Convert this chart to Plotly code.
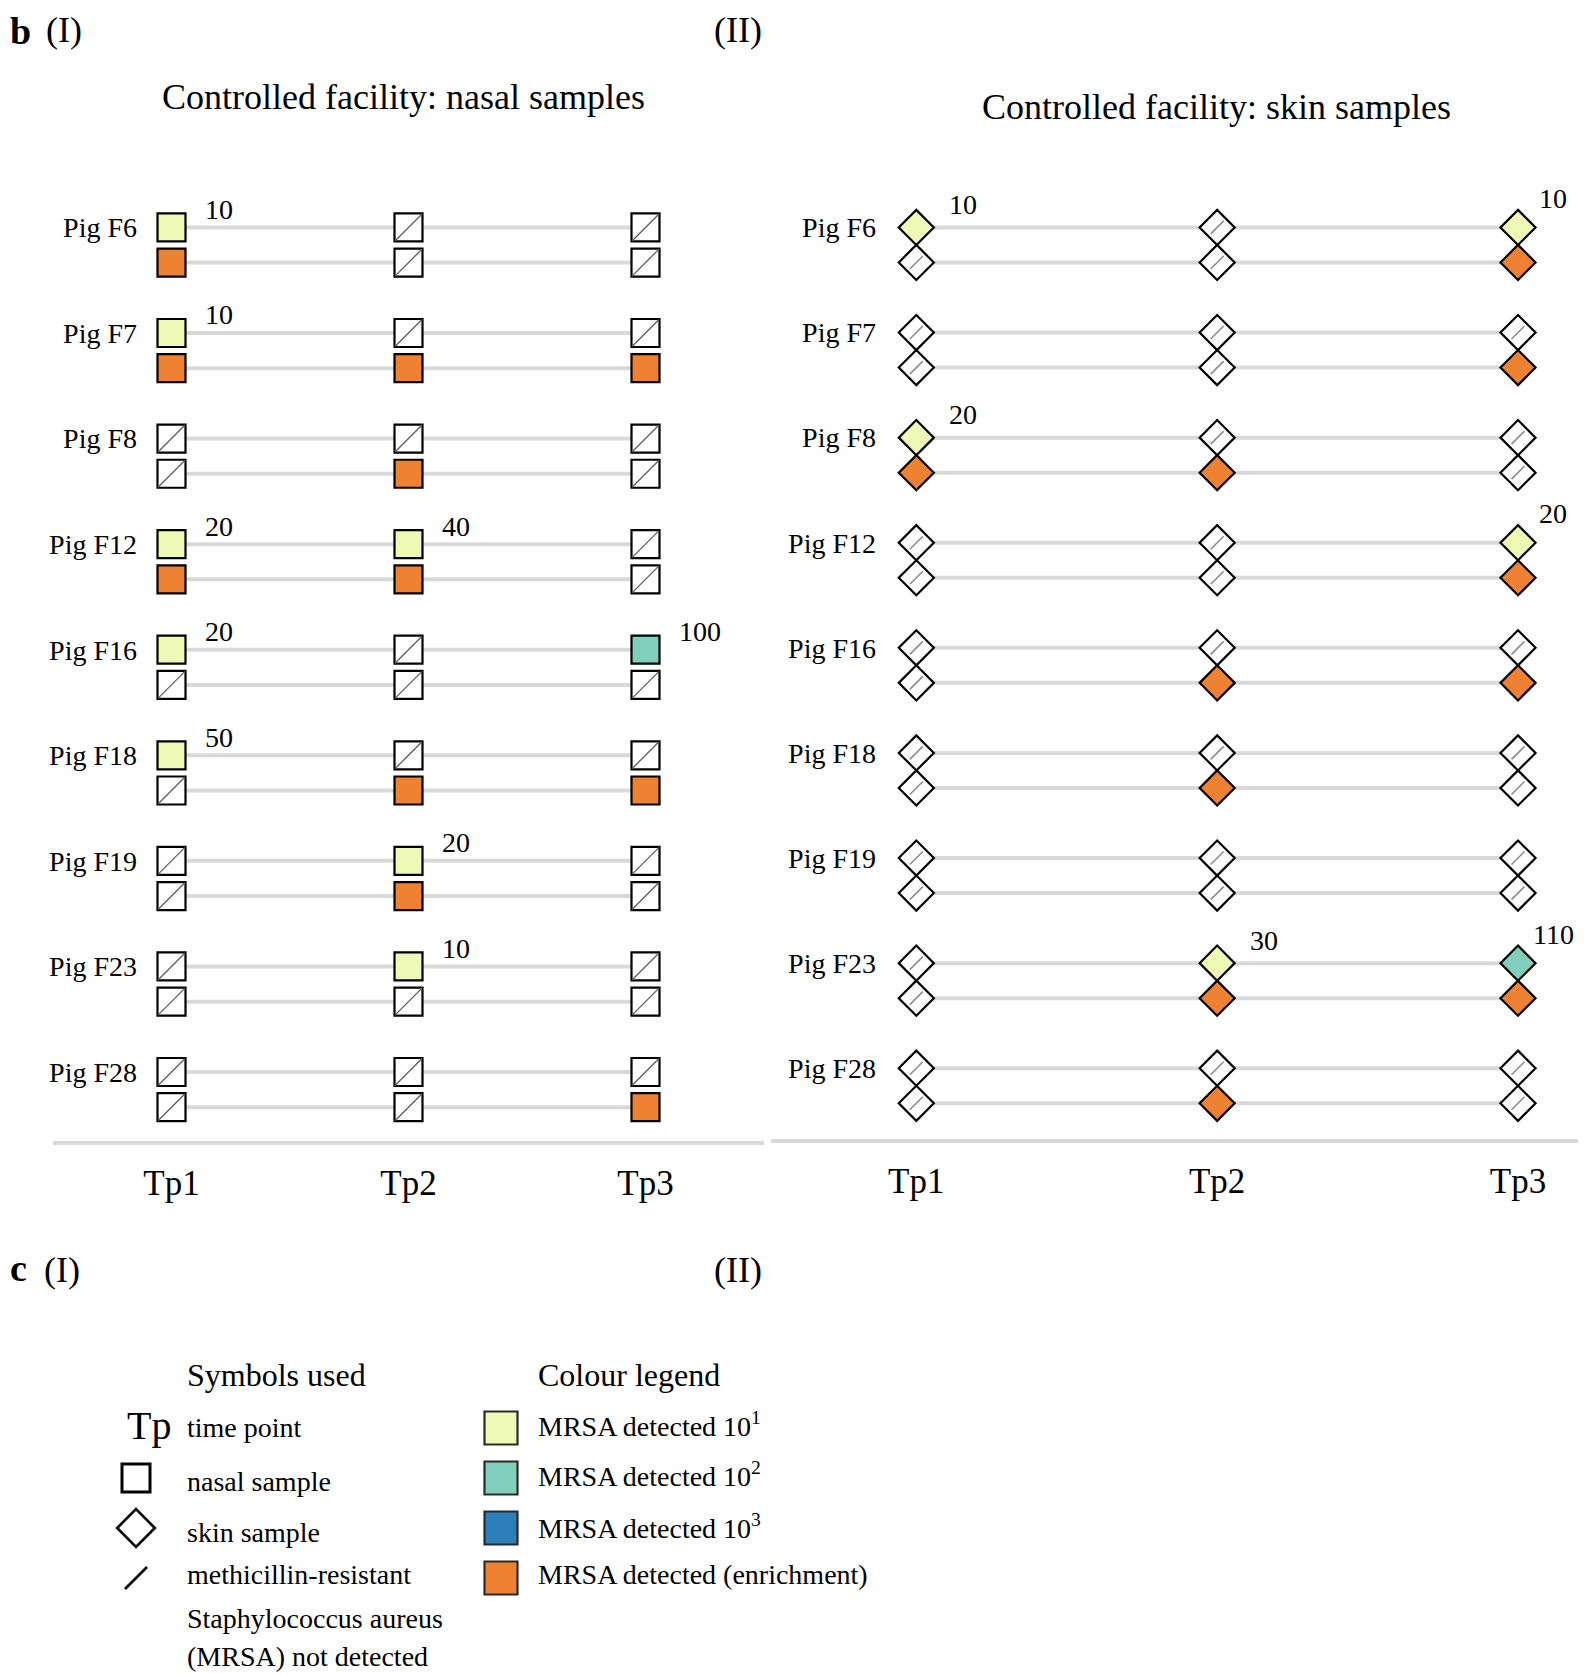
import plotly.graph_objects as go

# ---------------- data ----------------
pigs = ["Pig F6", "Pig F7", "Pig F8", "Pig F12", "Pig F16",
        "Pig F18", "Pig F19", "Pig F23", "Pig F28"]
timepoints = ["Tp1", "Tp2", "Tp3"]

# direct MRSA count per pig (rows) and time point (cols); 0 = not detected
nasal_count = [
    [10, 0, 0],
    [10, 0, 0],
    [0, 0, 0],
    [20, 40, 0],
    [20, 0, 100],
    [50, 0, 0],
    [0, 20, 0],
    [0, 10, 0],
    [0, 0, 0],
]
# MRSA detected after enrichment (1) or not (0)
nasal_enrich = [
    [1, 0, 0],
    [1, 1, 1],
    [0, 1, 0],
    [1, 1, 0],
    [0, 0, 0],
    [0, 1, 1],
    [0, 1, 0],
    [0, 0, 0],
    [0, 0, 1],
]
skin_count = [
    [10, 0, 10],
    [0, 0, 0],
    [20, 0, 0],
    [0, 0, 20],
    [0, 0, 0],
    [0, 0, 0],
    [0, 0, 0],
    [0, 30, 110],
    [0, 0, 0],
]
skin_enrich = [
    [0, 0, 1],
    [0, 0, 1],
    [1, 1, 0],
    [0, 0, 1],
    [0, 1, 1],
    [0, 1, 0],
    [0, 0, 0],
    [0, 1, 1],
    [0, 1, 0],
]

colour_labels = ["MRSA detected 10<sup>1</sup>", "MRSA detected 10<sup>2</sup>",
                 "MRSA detected 10<sup>3</sup>", "MRSA detected (enrichment)"]
symbol_labels = ["time point", "nasal sample", "skin sample", "methicillin-resistant",
                 "Staphylococcus aureus", "(MRSA) not detected"]

# ---------------- style ----------------
PAGE_W, PAGE_H = 1586, 1674
OFF = 8  # default body margin of the html page
W, H = PAGE_W - OFF, PAGE_H - OFF
FONT = "Liberation Serif, Times New Roman, serif"
C1, C2, C3, CENR = "#EDF9B4", "#80CFBD", "#2C7FB8", "#EF8133"
NONE_FILL = "#FFFFFF"
ROWLINE = "#D9D9D9"
COLOURS = [C1, C2, C3, CENR]


def px_x(p):
    return (p - OFF) / W


def px_y(p):
    return 1 - (p - OFF) / H


def count_colour(v):
    if v >= 1000:
        return C3
    if v >= 100:
        return C2
    return C1


fig = go.Figure()


def add_panel(count, enrich, xa, ya, symbol, size, slash_size, slash_col, slash_w):
    # row lines
    lx, ly = [], []
    for i in range(len(pigs)):
        for r in range(2):
            lx += [1, 3, None]
            ly += [3 * i + r, 3 * i + r, None]
    fig.add_trace(go.Scatter(x=lx, y=ly, mode="lines", xaxis=xa, yaxis=ya,
                             line=dict(color=ROWLINE, width=4), hoverinfo="skip",
                             showlegend=False))
    xs, ys, cols = [], [], []
    nx, ny = [], []
    for i in range(len(pigs)):
        for t in range(3):
            v = count[i][t]
            xs.append(t + 1)
            ys.append(3 * i)
            if v > 0:
                cols.append(count_colour(v))
            else:
                cols.append(NONE_FILL)
                nx.append(t + 1)
                ny.append(3 * i)
            e = enrich[i][t]
            xs.append(t + 1)
            ys.append(3 * i + 1)
            if e:
                cols.append(CENR)
            else:
                cols.append(NONE_FILL)
                nx.append(t + 1)
                ny.append(3 * i + 1)
    fig.add_trace(go.Scatter(x=xs, y=ys, mode="markers", xaxis=xa, yaxis=ya,
                             marker=dict(symbol=symbol, size=size, color=cols,
                                         line=dict(color="black", width=2.2)),
                             showlegend=False, cliponaxis=False))
    fig.add_trace(go.Scatter(x=nx, y=ny, mode="markers", xaxis=xa, yaxis=ya,
                             marker=dict(symbol="line-ne", size=slash_size,
                                         line=dict(color=slash_col, width=slash_w)),
                             showlegend=False, cliponaxis=False))


add_panel(nasal_count, nasal_enrich, "x", "y", "square", 28, 27, "#5A5A5A", 1.3)
add_panel(skin_count, skin_enrich, "x2", "y2", "diamond", 27, 13, "#8C8C8C", 1.6)

annotations = []
CNT_FONT = dict(size=28, color="black", family=FONT)
for i in range(len(pigs)):
    for t in range(3):
        v = nasal_count[i][t]
        if v > 0:
            annotations.append(dict(x=t + 1, y=3 * i, xref="x", yref="y", text=str(v),
                                    showarrow=False, xanchor="left", yanchor="middle",
                                    xshift=31, yshift=18, font=CNT_FONT))
        v = skin_count[i][t]
        if v > 0:
            if t == 2:
                annotations.append(dict(x=t + 1, y=3 * i, xref="x2", yref="y2", text=str(v),
                                        showarrow=False, xanchor="center", yanchor="middle",
                                        xshift=35, yshift=29, font=CNT_FONT))
            else:
                annotations.append(dict(x=t + 1, y=3 * i, xref="x2", yref="y2", text=str(v),
                                        showarrow=False, xanchor="left", yanchor="middle",
                                        xshift=31, yshift=23, font=CNT_FONT))


def text(x, y, s, size, anchor="left", bold=False, yanchor="middle"):
    annotations.append(dict(x=px_x(x), y=px_y(y), xref="paper", yref="paper",
                            text=("<b>%s</b>" % s) if bold else s, showarrow=False,
                            xanchor=anchor, yanchor=yanchor,
                            font=dict(size=size, color="black", family=FONT)))


# panel letters and titles
text(OFF, OFF, "b", 38, bold=True, yanchor="top")
text(44, OFF, "(I)", 36, yanchor="top")
text(712, OFF, "(II)", 36, yanchor="top")
text(403, 97, "Controlled facility: nasal samples", 36, anchor="center")
text(1216, 107, "Controlled facility: skin samples", 36, anchor="center")
text(OFF, 1268, "c", 38, bold=True)
text(42, 1270, "(I)", 36)
text(712, 1270, "(II)", 36)

# legend texts
text(185, 1375, "Symbols used", 32)
text(536, 1375, "Colour legend", 32)
text(149, 1425, "Tp", 40, anchor="center")
for yy, s in zip([1427, 1481, 1532, 1574, 1618, 1656], symbol_labels):
    text(185, yy, s, 28)
for yy, s in zip([1424, 1474, 1526, 1574], colour_labels):
    text(536, yy, s, 28)

# legend symbols (hidden axis, columns 0 = symbols, 1 = colours; rows 0..3)
fig.add_trace(go.Scatter(x=[0], y=[1], mode="markers", xaxis="x3", yaxis="y3",
                         marker=dict(symbol="square", size=28, color="white",
                                     line=dict(color="black", width=3)),
                         showlegend=False, cliponaxis=False))
fig.add_trace(go.Scatter(x=[0], y=[2], mode="markers", xaxis="x3", yaxis="y3",
                         marker=dict(symbol="diamond", size=29, color="white",
                                     line=dict(color="black", width=2.6)),
                         showlegend=False, cliponaxis=False))
fig.add_trace(go.Scatter(x=[0], y=[3], mode="markers", xaxis="x3", yaxis="y3",
                         marker=dict(symbol="line-ne", size=22,
                                     line=dict(color="black", width=2.6)),
                         showlegend=False, cliponaxis=False))
fig.add_trace(go.Scatter(x=[1, 1, 1, 1], y=[0, 1, 2, 3], mode="markers", xaxis="x3", yaxis="y3",
                         marker=dict(symbol="square", size=33, color=COLOURS,
                                     line=dict(color="#2A2A2A", width=2.2)),
                         showlegend=False, cliponaxis=False))

tickfont_pig = dict(size=28, color="black", family=FONT)
tickfont_tp = dict(size=35, color="black", family=FONT)

fig.update_layout(
    width=W, height=H,
    margin=dict(l=0, r=0, t=0, b=0),
    paper_bgcolor="white", plot_bgcolor="rgba(0,0,0,0)",
    showlegend=False,
    annotations=annotations,
    xaxis=dict(domain=[px_x(53), px_x(764)], range=[0.5, 3.5], anchor="y",
               tickvals=[1, 2, 3], ticktext=timepoints, tickfont=tickfont_tp,
               showline=True, linecolor=ROWLINE, linewidth=4, showgrid=False,
               zeroline=False, ticks="", ticklabelstandoff=8, fixedrange=True),
    yaxis=dict(domain=[px_y(1141), px_y(150)], range=[25.96, -2.2], anchor="free",
               position=px_x(137), tickvals=[3 * i for i in range(len(pigs))],
               ticktext=pigs, tickfont=tickfont_pig, showline=False, showgrid=False,
               zeroline=False, ticks="", fixedrange=True),
    xaxis2=dict(domain=[px_x(771), 1.0], range=[0.517, 3.226], anchor="y2",
                tickvals=[1, 2, 3], ticktext=timepoints, tickfont=tickfont_tp,
                showline=True, linecolor=ROWLINE, linewidth=4, showgrid=False,
                zeroline=False, ticks="", ticklabelstandoff=8, fixedrange=True),
    yaxis2=dict(domain=[px_y(1139), px_y(150)], range=[26.02, -2.21], anchor="free",
                position=px_x(876), tickvals=[3 * i for i in range(len(pigs))],
                ticktext=pigs, tickfont=tickfont_pig, showline=False, showgrid=False,
                zeroline=False, ticks="", fixedrange=True),
    xaxis3=dict(domain=[px_x(136), px_x(501)], range=[0, 1], anchor="y3",
                visible=False, fixedrange=True),
    yaxis3=dict(domain=[px_y(1578), px_y(1428)], range=[3, 0], anchor="x3",
                visible=False, fixedrange=True),
)

fig.write_html("out.html")
